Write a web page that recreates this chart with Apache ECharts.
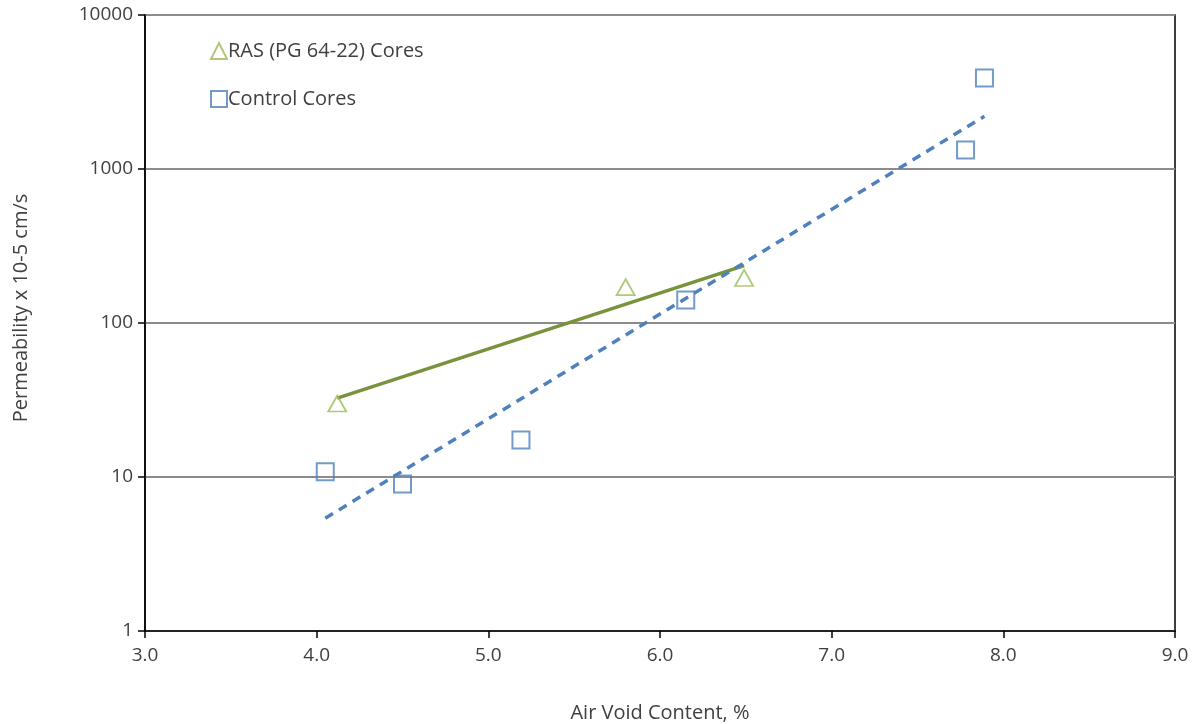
<!DOCTYPE html>
<html>
<head>
<meta charset="utf-8">
<script src="https://cdn.jsdelivr.net/npm/echarts@6/dist/echarts.min.js"></script>
<style>
  html, body { margin: 0; padding: 0; background: #fff; }
  #chart { width: 1200px; height: 724px; }
</style>
</head>
<body>
<div id="chart"></div>
<script>
// data
const rasX = [4.12, 5.80, 6.49];
const rasY = [30, 171, 196];
const ctrlX = [4.05, 4.50, 5.19, 6.15, 7.78, 7.89];
const ctrlY = [10.8, 9.0, 17.4, 141, 1330, 3900];
// trend line end points
const rasTrendX = [4.12, 6.49];
const rasTrendY = [32.5, 236];
const ctrlTrendX = [4.05, 7.89];
const ctrlTrendY = [5.4, 2200];
const yTicks = [1, 10, 100, 1000, 10000];

const pairs = (xs, ys) => xs.map((x, i) => [x, ys[i]]);

const chart = echarts.init(document.getElementById('chart'));
const font = '"Open Sans", Lato, sans-serif';

const option = {
  animation: false,
  textStyle: { fontFamily: font },
  grid: {
    left: 145, right: 25, top: 15, bottom: 93,
    outerBoundsMode: 'none', containLabel: false,
    show: true, borderColor: '#000', borderWidth: 1.5
  },
  legend: {
    data: ['RAS (PG 64-22) Cores', 'Control Cores'],
    orient: 'vertical',
    left: 205, top: 36,
    itemWidth: 16, itemHeight: 16,
    itemGap: 28,
    textStyle: { fontFamily: font, fontSize: 20, color: '#404040', padding: [0, 0, 0, -4] }
  },
  xAxis: {
    type: 'value', min: 3, max: 9, interval: 1,
    name: 'Air Void Content, %',
    nameLocation: 'middle', nameGap: 72,
    nameTextStyle: { fontSize: 20, color: '#404040' },
    axisLine: { lineStyle: { color: '#000', width: 1.5 } },
    axisTick: { show: true, length: 7, lineStyle: { color: '#000', width: 1.5 } },
    axisLabel: { fontSize: 19, color: '#404040', margin: 15, formatter: v => v.toFixed(1) },
    splitLine: { show: false }
  },
  yAxis: {
    type: 'log', logBase: 10, min: yTicks[0], max: yTicks[yTicks.length - 1],
    name: 'Permeability x 10-5 cm/s',
    nameLocation: 'middle', nameGap: 114,
    nameTextStyle: { fontSize: 20, color: '#404040', padding: [0, 0, 0, 30] },
    axisLine: { lineStyle: { color: '#000', width: 1.5 } },
    axisTick: { show: true, length: 7, lineStyle: { color: '#000', width: 1.5 } },
    axisLabel: { fontSize: 19, color: '#404040', margin: 12,
      formatter: v => yTicks.includes(Math.round(v)) ? String(Math.round(v)) : '' },
    minorTick: { show: false },
    splitLine: { show: true, lineStyle: { color: '#8c8c8c', width: 2 } }
  },
  series: [
    {
      name: 'RAS trend', type: 'line', data: pairs(rasTrendX, rasTrendY),
      symbol: 'none', lineStyle: { color: '#77933C', width: 3.5 }, z: 3
    },
    {
      name: 'Control trend', type: 'line', data: pairs(ctrlTrendX, ctrlTrendY),
      symbol: 'none', lineStyle: { color: '#4F81BD', width: 3.5, type: [9, 7] }, z: 3
    },
    {
      name: 'RAS (PG 64-22) Cores', type: 'scatter', data: pairs(rasX, rasY),
      symbol: 'triangle', symbolSize: [18, 16],
      itemStyle: { color: 'rgba(255,255,255,0)', borderColor: '#9BBB59', borderWidth: 1.8 },
      z: 4
    },
    {
      name: 'Control Cores', type: 'scatter', data: pairs(ctrlX, ctrlY),
      symbol: 'rect', symbolSize: 17,
      itemStyle: { color: 'rgba(255,255,255,0)', borderColor: '#4F81BD', borderWidth: 2 },
      z: 4
    }
  ]
};
chart.setOption(option);
</script>
</body>
</html>
